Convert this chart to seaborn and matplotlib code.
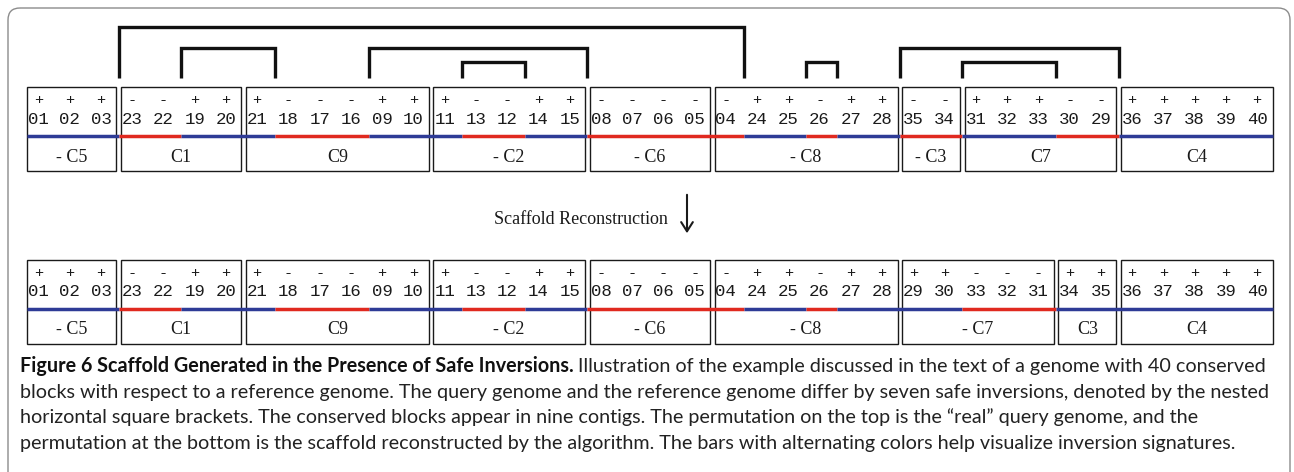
import matplotlib
matplotlib.use("Agg")
import matplotlib.pyplot as plt
from matplotlib.patches import Rectangle, FancyBboxPatch
import seaborn as sns

# query genome (top) and reconstructed scaffold (bottom): signed block ids per contig
top_labels = ["-C5", "C1", "C9", "-C2", "-C6", "-C8", "-C3", "C7", "C4"]
top_blocks = [[1, 2, 3], [-23, -22, 19, 20], [21, -18, -17, -16, 9, 10],
              [11, -13, -12, 14, 15], [-8, -7, -6, -5], [-4, 24, 25, -26, 27, 28],
              [-35, -34], [31, 32, 33, -30, -29], [36, 37, 38, 39, 40]]

bottom_labels = ["-C5", "C1", "C9", "-C2", "-C6", "-C8", "-C7", "C3", "C4"]
bottom_blocks = [[1, 2, 3], [-23, -22, 19, 20], [21, -18, -17, -16, 9, 10],
                 [11, -13, -12, 14, 15], [-8, -7, -6, -5], [-4, 24, 25, -26, 27, 28],
                 [29, 30, -33, -32, -31], [34, 35], [36, 37, 38, 39, 40]]

# safe inversions as (first block position, last block position, nesting depth)
inv_first = [3, 5, 11, 14, 25, 28, 30]
inv_last = [22, 7, 17, 15, 25, 34, 32]
inv_depth = [0, 1, 1, 2, 2, 1, 2]

caption_bold = "Figure 6 Scaffold Generated in the Presence of Safe Inversions."
caption_lines = [
    "Illustration of the example discussed in the text of a genome with 40 conserved",
    "blocks with respect to a reference genome. The query genome and the reference genome differ by seven safe inversions, denoted by the nested",
    "horizontal square brackets. The conserved blocks appear in nine contigs. The permutation on the top is the \u201creal\u201d query genome, and the",
    "permutation at the bottom is the scaffold reconstructed by the algorithm. The bars with alternating colors help visualize inversion signatures.",
]

# layout (pixel units)
U = 31.25
GAP = 4.5
X0 = 24.75
ROW_H = 84
BLUE = "#2e3b96"
RED = "#e0291f"
INK = "#1a1a1a"
DEPTH_Y = {0: 27, 1: 48, 2: 62}

sns.set_theme(style="white")
plt.rcParams["font.family"] = ["DejaVu Sans"]

fig = plt.figure(figsize=(12.94, 4.72), dpi=100)
ax = fig.add_axes([0, 0, 1, 1])
ax.set_xlim(0, 1294)
ax.set_ylim(472, 0)
ax.axis("off")


def draw_row(labels, blocks, top):
    pos = 0
    flat = [b for blk in blocks for b in blk]
    left_edge = X0 + GAP / 2
    right_edge = X0 + len(flat) * U - GAP / 2
    for lab, blk in zip(labels, blocks):
        x_a = X0 + pos * U + GAP / 2
        x_b = X0 + (pos + len(blk)) * U - GAP / 2
        ax.add_patch(Rectangle((x_a, top), x_b - x_a, ROW_H, fill=False,
                               ec=INK, lw=1.0, zorder=2))
        for k, b in enumerate(blk):
            xc = X0 + (pos + k + 0.5) * U - 2
            ax.text(xc, top + 13, "+" if b > 0 else "-", ha="center", va="center",
                    family="Liberation Mono", fontsize=11, color=INK)
            ax.text(xc, top + 32, "%02d" % abs(b), ha="center", va="center",
                    family="Liberation Mono", fontsize=12.5, color=INK)
        ax.text((x_a + x_b) / 2, top + 70, lab.replace("-", "- "), ha="center",
                va="center", family="Liberation Serif", fontsize=13, color=INK)
        pos += len(blk)

    # sign bar: merge runs of equal orientation
    start = 0
    for i in range(1, len(flat) + 1):
        if i == len(flat) or (flat[i] > 0) != (flat[start] > 0):
            xs = max(X0 + start * U, left_edge)
            xe = min(X0 + i * U, right_edge)
            ax.hlines(top + 49, xs, xe, color=BLUE if flat[start] > 0 else RED,
                      lw=2.5, zorder=3, capstyle="butt")
            start = i


draw_row(top_labels, top_blocks, 87)
draw_row(bottom_labels, bottom_blocks, 260)

# inversion brackets
for a, b, d in zip(inv_first, inv_last, inv_depth):
    xl = X0 + a * U
    xr = X0 + (b + 1) * U
    yt = DEPTH_Y[d]
    ax.plot([xl, xl, xr, xr], [78, yt, yt, 78], color="#111111", lw=2.4,
            solid_joinstyle="miter", solid_capstyle="butt", zorder=4)

# arrow between rows
ax.text(668, 219, "Scaffold Reconstruction", ha="right", va="center",
        family="Liberation Serif", fontsize=13, color=INK)
ax.annotate("", xy=(687, 236), xytext=(687, 192),
            arrowprops=dict(arrowstyle="->,head_length=0.55,head_width=0.35",
                            color=INK, lw=1.5))

# outer frame
ax.add_patch(FancyBboxPatch((8, 8), 1282, 520,
                            boxstyle="round,pad=0,rounding_size=12",
                            fill=False, ec="#8c8c8c", lw=1.0, clip_on=True))

# caption
fig.canvas.draw()
renderer = fig.canvas.get_renderer()
cap_kw = dict(family="Lato", fontsize=14.2, va="baseline", ha="left")
tb = ax.text(20, 372, caption_bold, fontweight="bold", color="#111111", **cap_kw)
bb = tb.get_window_extent(renderer)
x_data = ax.transData.inverted().transform((bb.x1 + 4, 0))[0]
ax.text(x_data, 372, caption_lines[0], color="#222222", **cap_kw)
for j, line in enumerate(caption_lines[1:]):
    ax.text(20, 372 + 25.7 * (j + 1), line, color="#222222", **cap_kw)

fig.savefig("out.png", dpi=100)
